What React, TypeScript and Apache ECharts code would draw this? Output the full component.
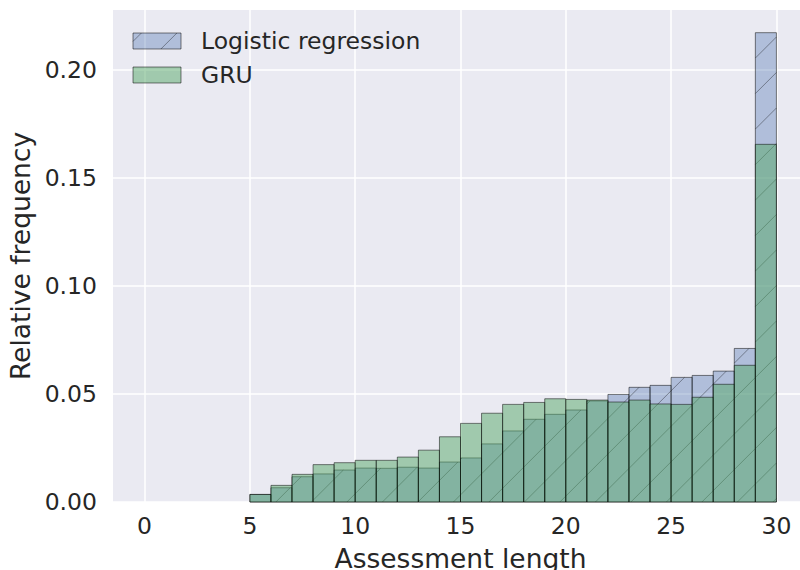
import React, { useEffect, useRef } from "react";
import * as echarts from "echarts";

// Histogram bin edges (width 1)
const binEdges = [5, 6, 7, 8, 9, 10, 11, 12, 13, 14, 15, 16, 17, 18, 19, 20, 21, 22, 23, 24, 25, 26, 27, 28, 29, 30];

const lrValues = [
  0.0035, 0.0066, 0.0117, 0.013, 0.0148, 0.0157, 0.0156, 0.0161, 0.0157, 0.0185,
  0.0204, 0.0269, 0.0329, 0.0383, 0.0406, 0.0426, 0.0468, 0.0498, 0.0531, 0.054,
  0.0577, 0.0586, 0.0606, 0.0711, 0.2173,
];

const gruValues = [
  0.0035, 0.0077, 0.0128, 0.0173, 0.0182, 0.0193, 0.0193, 0.0208, 0.024, 0.0302,
  0.0364, 0.0411, 0.0452, 0.0461, 0.0478, 0.0475, 0.0472, 0.0463, 0.0472, 0.0454,
  0.0452, 0.0485, 0.0545, 0.0633, 0.1656,
];

const xTickValues = [0, 5, 10, 15, 20, 25, 30];
const yTickValues = [0, 0.05, 0.1, 0.15, 0.2];

const seriesNames = ["Logistic regression", "GRU"];

const FONT = "DejaVu Sans";
const TEXT = "#262626";
const BG = "#EAEAF2";
const LR_FILL = "rgba(76,114,176,0.36)";
const GRU_FILL = "rgba(85,168,104,0.5)";
const EDGE = "rgba(0,0,0,0.5)";
const HATCH = "rgba(0,0,0,0.36)";

const HATCH_STEP = 35.5;
const HATCH_PHASE = 32.4;

function hatchLines(x: number, y: number, w: number, h: number) {
  const out: any[] = [];
  const cMin = x + y;
  const cMax = x + w + y + h;
  const k = Math.ceil((cMin - HATCH_PHASE) / HATCH_STEP);
  for (let c = HATCH_PHASE + k * HATCH_STEP; c <= cMax; c += HATCH_STEP) {
    const xa = Math.max(x, c - (y + h));
    const xb = Math.min(x + w, c - y);
    if (xb - xa > 0.3) {
      out.push({
        type: "line",
        shape: { x1: xa, y1: c - xa, x2: xb, y2: c - xb },
        style: { stroke: HATCH, lineWidth: 1 },
      });
    }
  }
  return out;
}

function makeData(values: number[]) {
  return values.map((v, i) => [binEdges[i], binEdges[i + 1], v]);
}

function makeRender(fill: string, hatch: boolean) {
  return (_params: any, api: any) => {
    const s = api.value(0);
    const e = api.value(1);
    const v = api.value(2);
    const tl = api.coord([s, v]);
    const br = api.coord([e, 0]);
    const x = tl[0];
    const y = tl[1];
    const w = br[0] - tl[0];
    const h = br[1] - tl[1];
    const children: any[] = [
      {
        type: "rect",
        shape: { x, y, width: w, height: h },
        style: { fill, stroke: EDGE, lineWidth: 1 },
      },
    ];
    if (hatch) children.push(...hatchLines(x, y, w, h));
    return { type: "group", children };
  };
}

export default function App() {
  const ref = useRef<HTMLDivElement>(null);

  useEffect(() => {
    if (!ref.current) return;
    const chart = echarts.init(ref.current, undefined, { renderer: "svg" });

    const legendX = 133;
    const legendW = 48;
    const legendH = 16;
    const legendY1 = 33;
    const legendY2 = 67;

    const option: any = {
      animation: false,
      backgroundColor: "#ffffff",
      textStyle: { fontFamily: FONT },
      grid: {
        left: 113,
        top: 10,
        width: 695,
        height: 492,
        show: true,
        backgroundColor: BG,
        borderWidth: 0,
        containLabel: false,
        outerBoundsMode: "none",
      },
      xAxis: {
        type: "value",
        min: -1.5,
        max: 31.5,
        name: "Assessment length",
        nameLocation: "middle",
        nameGap: 43,
        nameTextStyle: { fontSize: 26.5, color: TEXT, fontFamily: FONT },
        axisLine: { show: false },
        axisTick: { show: false, customValues: xTickValues },
        axisLabel: {
          customValues: xTickValues,
          fontSize: 23.5,
          color: TEXT,
          fontFamily: FONT,
          margin: 12,
        },
        splitLine: { show: true, lineStyle: { color: "#ffffff", width: 1.5 } },
      },
      yAxis: {
        type: "value",
        min: 0,
        max: 0.2278,
        name: "Relative frequency",
        nameLocation: "middle",
        nameGap: 68,
        nameTextStyle: { fontSize: 26.5, color: TEXT, fontFamily: FONT },
        axisLine: { show: false },
        axisTick: { show: false, customValues: yTickValues },
        axisLabel: {
          customValues: yTickValues,
          fontSize: 23.5,
          color: TEXT,
          fontFamily: FONT,
          margin: 16,
          formatter: (v: number) => v.toFixed(2),
        },
        splitLine: { show: true, lineStyle: { color: "#ffffff", width: 1.5 } },
      },
      series: [
        {
          type: "custom",
          name: seriesNames[0],
          data: makeData(lrValues),
          encode: { x: [0, 1], y: 2 },
          renderItem: makeRender(LR_FILL, true),
        },
        {
          type: "custom",
          name: seriesNames[1],
          data: makeData(gruValues),
          encode: { x: [0, 1], y: 2 },
          renderItem: makeRender(GRU_FILL, false),
        },
      ],
      graphic: [
        {
          type: "group",
          z: 100,
          children: [
            {
              type: "rect",
              z: 100,
              shape: { x: legendX, y: legendY1, width: legendW, height: legendH },
              style: { fill: LR_FILL, stroke: EDGE, lineWidth: 1 },
            },
            ...hatchLines(legendX, legendY1, legendW, legendH).map((l) => ({ ...l, z: 101 })),
            {
              type: "rect",
              z: 100,
              shape: { x: legendX, y: legendY2, width: legendW, height: legendH },
              style: { fill: GRU_FILL, stroke: EDGE, lineWidth: 1 },
            },
            {
              type: "text",
              z: 100,
              x: 201,
              y: legendY1 + legendH / 2,
              style: {
                text: seriesNames[0],
                fontSize: 23.5,
                fontFamily: FONT,
                fill: TEXT,
                verticalAlign: "middle",
                align: "left",
              },
            },
            {
              type: "text",
              z: 100,
              x: 201,
              y: legendY2 + legendH / 2,
              style: {
                text: seriesNames[1],
                fontSize: 23.5,
                fontFamily: FONT,
                fill: TEXT,
                verticalAlign: "middle",
                align: "left",
              },
            },
          ],
        },
      ],
    };

    chart.setOption(option);
    return () => chart.dispose();
  }, []);

  return (
    <div
      ref={ref}
      style={{ position: "absolute", left: 0, top: 0, width: 800, height: 570 }}
    />
  );
}
